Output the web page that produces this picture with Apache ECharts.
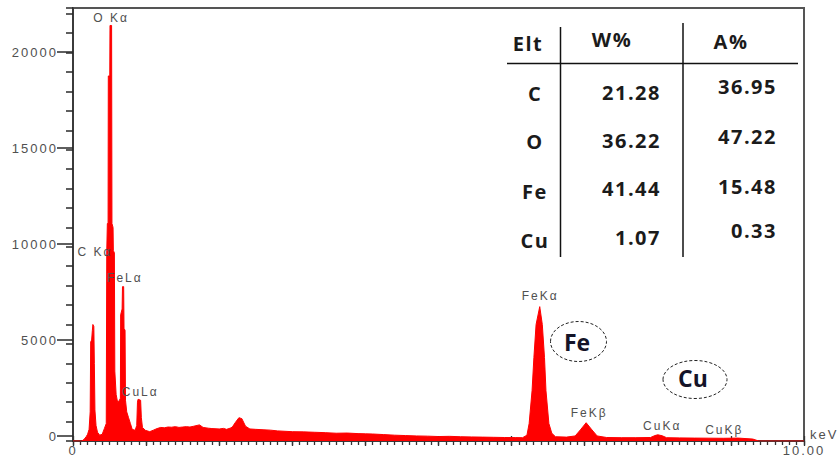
<!DOCTYPE html>
<html>
<head>
<meta charset="utf-8">
<script src="https://cdn.jsdelivr.net/npm/echarts@6/dist/echarts.min.js"></script>
<style>
  html, body { margin: 0; padding: 0; background: #fff; }
  #chart { width: 837px; height: 457px; }
  /* spaced-out lettering for instrument labels and the results table */
  #chart text[fill="#505050"] { letter-spacing: 2px; }
  #chart text[fill="#1b1b1b"] { letter-spacing: 1.5px; }
</style>
</head>
<body>
<div id="chart"></div>
<script>
// EDS spectrum: channel energy (keV) and counts
const energyKeV = [
  0.00, 0.12, 0.15, 0.18, 0.20, 0.22, 0.235, 0.242, 0.255, 0.265, 0.272, 0.285, 0.292, 0.300,
  0.315, 0.335, 0.365, 0.400, 0.430, 0.455, 0.462, 0.470, 0.480, 0.483, 0.503, 0.506, 0.528,
  0.533, 0.548, 0.552, 0.566, 0.572, 0.590, 0.610, 0.635, 0.648, 0.652, 0.672, 0.677, 0.693,
  0.698, 0.712, 0.718, 0.735, 0.760, 0.785, 0.810, 0.850, 0.872, 0.882, 0.890, 0.925, 0.935,
  0.950, 0.990, 1.050, 1.100, 1.150, 1.200, 1.250, 1.300, 1.350, 1.400, 1.450, 1.500, 1.550,
  1.600, 1.650, 1.730, 1.780, 1.850, 1.900, 2.000, 2.060, 2.100, 2.150, 2.180, 2.220, 2.270,
  2.310, 2.360, 2.420, 2.500, 2.600, 2.700, 2.800, 2.900, 3.000, 3.150, 3.300, 3.450, 3.600,
  3.750, 3.900, 4.000, 4.100, 4.250, 4.400, 4.550, 4.700, 4.850, 5.000, 5.150, 5.300, 5.450,
  5.600, 5.750, 5.900, 6.050, 6.150, 6.210, 6.240, 6.280, 6.305, 6.335, 6.385, 6.420, 6.450,
  6.470, 6.510, 6.550, 6.600, 6.750, 6.870, 6.940, 7.020, 7.100, 7.170, 7.300, 7.500, 7.700,
  7.900, 7.960, 8.000, 8.060, 8.120, 8.300, 8.500, 8.700, 8.900, 9.100, 9.300, 9.380, 10.00
];
const counts = [
  0, 0, 80, 220, 350, 600, 1500, 5100, 5200, 5700, 6000, 5900, 4000, 1600,
  800, 450, 300, 350, 650, 900, 9800, 11200, 11200, 18800, 18800, 21400, 21400,
  11200, 11000, 9800, 9700, 3600, 2400, 2000, 2100, 2200, 6500, 6800, 7950, 7950,
  5800, 5700, 2100, 1500, 1200, 900, 600, 550, 800, 2000, 2150, 2100, 1200,
  700, 550, 480, 560, 640, 700, 680, 720, 710, 740, 700, 720, 740,
  720, 760, 830, 700, 660, 640, 620, 650, 600, 660, 720, 950, 1200,
  1150, 760, 620, 600, 580, 560, 520, 500, 480, 470, 450, 430, 400,
  410, 380, 370, 360, 330, 300, 280, 260, 250, 230, 240, 220, 210,
  200, 190, 180, 175, 170, 300, 900, 2600, 4300, 6000, 6920, 6000, 4300,
  2600, 900, 400, 220, 200, 260, 570, 940, 570, 260, 180, 170, 170,
  180, 280, 320, 270, 170, 160, 150, 145, 140, 150, 100, 0, 0
];

// Peak annotations (label anchor in keV / counts)
const peakNames = ['O K\u03b1', 'C K\u03b1', 'FeL\u03b1', 'CuL\u03b1', 'FeK\u03b1', 'FeK\u03b2', 'CuK\u03b1', 'CuK\u03b2'];
const peakLabelKeV = [0.52, 0.30, 0.71, 0.92, 6.39, 7.06, 8.06, 8.91];
const peakLabelCounts = [21800, 9740, 8380, 2540, 7470, 1440, 760, 580];

// Quantification results
const tableHeader = ['Elt', 'W%', 'A%'];
const elements = ['C', 'O', 'Fe', 'Cu'];
const weightPct = ['21.28', '36.22', '41.44', '1.07'];
const atomicPct = ['36.95', '47.22', '15.48', '0.33'];

// Circled element callouts
const callouts = ['Fe', 'Cu'];

// Axis tick values
const yMajorTicks = [0, 5000, 10000, 15000, 20000];
const yMinorTicks = [0, 1000, 2000, 3000, 4000, 5000, 6000, 7000, 8000, 9000, 10000, 11000,
  12000, 13000, 14000, 15000, 16000, 17000, 18000, 19000, 20000, 21000, 22000, 22300];
const xLabelTicks = [0, 10];

// ---- layout (pixels) ----
const labelFont = 'Liberation Sans, Arial, sans-serif';
const tableFont = 'Open Sans, sans-serif';
const plotBox = { left: 73, right: 33, top: 8, bottom: 16 };
const headerPos = [[528, 43.5], [612, 39.5], [731, 41]];
const eltX = 535, wRight = 661, aRight = 777;
const eltY = [93.5, 141.7, 191, 240];
const wY = [92.5, 140, 188.5, 237.5];
const aY = [86, 136.7, 186.7, 230];
const calloutShapes = [
  { cx: 578.5, cy: 341.5, rx: 28, ry: 20, tx: 577, ty: 342 },
  { cx: 695, cy: 379.5, rx: 32, ry: 19, tx: 693, ty: 378 }
];

const graphics = [];
// table rules
graphics.push({ type: 'line', z: 50, shape: { x1: 507, y1: 63.5, x2: 798, y2: 63.5 }, style: { stroke: '#111', lineWidth: 1.5 } });
graphics.push({ type: 'line', z: 50, shape: { x1: 560.5, y1: 27, x2: 560.5, y2: 257 }, style: { stroke: '#111', lineWidth: 1.5 } });
graphics.push({ type: 'line', z: 50, shape: { x1: 683, y1: 23, x2: 683, y2: 257 }, style: { stroke: '#111', lineWidth: 1.5 } });
// table header
tableHeader.forEach((h, i) => {
  graphics.push({ type: 'text', z: 50, x: headerPos[i][0], y: headerPos[i][1],
    style: { text: h, fill: '#1b1b1b', font: 'bold 20px ' + tableFont, align: 'center', verticalAlign: 'middle' } });
});
// table body
elements.forEach((el, i) => {
  graphics.push({ type: 'text', z: 50, x: eltX, y: eltY[i],
    style: { text: el, fill: '#1b1b1b', font: 'bold 20px ' + tableFont, align: 'center', verticalAlign: 'middle' } });
  graphics.push({ type: 'text', z: 50, x: wRight, y: wY[i],
    style: { text: weightPct[i], fill: '#1b1b1b', font: 'bold 20px ' + tableFont, align: 'right', verticalAlign: 'middle' } });
  graphics.push({ type: 'text', z: 50, x: aRight, y: aY[i],
    style: { text: atomicPct[i], fill: '#1b1b1b', font: 'bold 20px ' + tableFont, align: 'right', verticalAlign: 'middle' } });
});
// circled callouts
callouts.forEach((c, i) => {
  const s = calloutShapes[i];
  graphics.push({ type: 'ellipse', z: 50, shape: { cx: s.cx, cy: s.cy, rx: s.rx, ry: s.ry },
    style: { fill: 'none', stroke: '#222', lineWidth: 1, lineDash: [3, 2] } });
  graphics.push({ type: 'text', z: 50, x: s.tx, y: s.ty,
    style: { text: c, fill: '#141428', font: 'bold 23px ' + tableFont, align: 'center', verticalAlign: 'middle' } });
});
// energy unit
graphics.push({ type: 'text', z: 50, x: 810, y: 434,
  style: { text: 'keV', fill: '#505050', font: '13px ' + labelFont, align: 'left', verticalAlign: 'middle' } });

const chart = echarts.init(document.getElementById('chart'), null, { renderer: 'svg' });
chart.setOption({
  animation: false,
  backgroundColor: '#fff',
  // grid 0: spectrum with fine ticks; grid 1: same box, major ticks and labels
  grid: [
    Object.assign({ show: true, borderColor: '#555', borderWidth: 2 }, plotBox),
    Object.assign({ show: false }, plotBox)
  ],
  xAxis: [
    {
      gridIndex: 0, type: 'value', min: 0, max: 10, interval: 0.1,
      axisLine: { lineStyle: { color: '#333', width: 1.5 } },
      axisTick: { length: 4, lineStyle: { color: '#333', width: 1.3 } },
      axisLabel: { show: false },
      splitLine: { show: false }
    },
    {
      gridIndex: 1, type: 'value', min: 0, max: 10, interval: 1,
      axisLine: { show: false },
      axisTick: { length: 10, lineStyle: { color: '#333', width: 1.3 } },
      axisLabel: {
        customValues: xLabelTicks,
        formatter: v => (v === 0 ? '0' : v.toFixed(2)),
        color: '#505050', fontFamily: labelFont, fontSize: 13, margin: 8
      },
      splitLine: { show: false }
    }
  ],
  yAxis: [
    {
      gridIndex: 0, type: 'value', min: 0, max: 22300, interval: 1000,
      axisLine: { show: true, lineStyle: { color: '#333', width: 1.5 } },
      axisTick: { show: true, length: 7, customValues: yMinorTicks, lineStyle: { color: '#2a2a2a', width: 1.5 } },
      axisLabel: { show: false },
      splitLine: { show: false }
    },
    {
      gridIndex: 1, type: 'value', min: 0, max: 22300, interval: 5000,
      axisLine: { show: false },
      axisTick: { show: true, length: 16, customValues: yMajorTicks, lineStyle: { color: '#2a2a2a', width: 1.5 } },
      axisLabel: {
        customValues: yMajorTicks, formatter: v => String(v),
        color: '#505050', fontFamily: labelFont, fontSize: 13, margin: 15
      },
      splitLine: { show: false }
    }
  ],
  series: [{
    type: 'line',
    xAxisIndex: 0, yAxisIndex: 0,
    data: energyKeV.map((e, i) => [e, counts[i]]),
    symbol: 'none',
    silent: true,
    z: 2,
    lineStyle: { color: '#ff0000', width: 1 },
    itemStyle: { color: '#ff0000' },
    areaStyle: { color: '#ff0000', opacity: 1 }
  }],
  graphic: graphics
});

// Peak labels placed through the spectrum's own axes, drawn above the fill
const peakLabels = peakNames.map((name, i) => {
  const p = chart.convertToPixel({ gridIndex: 0 }, [peakLabelKeV[i], peakLabelCounts[i]]);
  return { type: 'text', z: 100, x: p[0], y: p[1],
    style: { text: name, fill: '#505050', font: '12px ' + labelFont, align: 'center', verticalAlign: 'middle' } };
});
chart.setOption({ graphic: graphics.concat(peakLabels) });
</script>
</body>
</html>
